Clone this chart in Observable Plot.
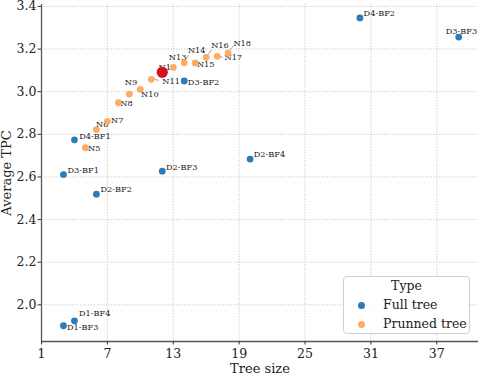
<!DOCTYPE html>
<html><head><meta charset="utf-8">
<script src="https://cdn.jsdelivr.net/npm/d3@7"></script>
<script src="https://cdn.jsdelivr.net/npm/@observablehq/plot@0.6"></script>
<style>
body{margin:0;background:#fff;}
#wrap{position:relative;width:478px;height:375px;font-family:"DejaVu Serif",serif;}
#legend{position:absolute;left:343px;top:276px;width:127px;height:58px;border:1px solid #cfcfcf;border-radius:4px;background:rgba(255,255,255,0.85);box-sizing:border-box;font-size:12.5px;color:#222;}
#legend .t{position:absolute;left:0;right:0;top:1px;text-align:center;}
#legend .row{position:absolute;left:0;right:0;height:18px;line-height:18px;}
#legend .dot{position:absolute;left:14px;top:6px;width:7px;height:7px;border-radius:50%;}
#legend .lab{position:absolute;left:39px;top:0;white-space:nowrap;}
</style></head><body><div id="wrap"></div>
<script>
// Full tree
const fullNames = ["D1-BF3","D1-BF4","D2-BF2","D3-BF1","D4-BF1","D2-BF3","D3-BF2","D2-BF4","D4-BF2","D3-BF3"];
const fullSize  = [3, 4, 6, 3, 4, 12, 14, 20, 30, 39];
const fullTPC   = [1.902, 1.925, 2.519, 2.611, 2.774, 2.627, 3.050, 2.684, 3.346, 3.256];
// Pruned tree
const prunedNames = ["N5","N6","N7","N8","N9","N10","N11","N12","N13","N14","N15","N16","N17","N18"];
const prunedSize  = [5, 6, 7, 8, 9, 10, 11, 12, 13, 14, 15, 16, 17, 18];
const prunedTPC   = [2.737, 2.822, 2.861, 2.948, 2.989, 3.011, 3.058, 3.091, 3.114, 3.136, 3.135, 3.161, 3.166, 3.181];
// Highlighted point
const highlightName = "N12";
// Axes
const xTicks = [1, 7, 13, 19, 25, 31, 37];
const yTicks = [2.0, 2.2, 2.4, 2.6, 2.8, 3.0, 3.2, 3.4];
const xDomain = [1, 40.8];
const yDomain = [1.828, 3.409];
const typeNames = ["Full tree", "Prunned tree"];
const typeColors = ["#2b7bb9", "#fdac63"];
const highlightColor = "#d3111f";

// label offsets (px): [dx, dy]
const labelOffsets = {
  "D1-BF3": [3.5, 1.5], "D1-BF4": [4.5, -7], "D2-BF2": [4, -5], "D3-BF1": [4, -4.7],
  "D4-BF1": [4.7, -3], "D2-BF3": [3.7, -4], "D3-BF2": [3.6, 1], "D2-BF4": [3.6, -4.7],
  "D4-BF2": [3.7, -4.3], "D3-BF3": [-13, -6],
  "N5": [2.7, 1], "N6": [-0.4, -5.7], "N7": [3.7, -1.3], "N8": [2, 1], "N9": [-4.6, -12],
  "N10": [0.7, 5], "N11": [11, 2], "N12": [-3.7, -4.6], "N13": [-4.4, -10.5],
  "N14": [3.7, -12.6], "N15": [1.7, 1.3], "N16": [5, -12.3], "N17": [7.3, 1.4], "N18": [5.3, -10]
};
// leader line ends (px from point)
const leaders = {"N11": [8, 1.5], "N14": [5, -7], "N16": [6, -7], "N17": [6, 1.5], "N18": [6, -7]};

const full = fullNames.map((n, i) => ({name: n, size: fullSize[i], tpc: fullTPC[i], type: typeNames[0]}));
const pruned = prunedNames.map((n, i) => ({name: n, size: prunedSize[i], tpc: prunedTPC[i], type: typeNames[1]}));
const all = full.concat(pruned);
const hi = all.filter(d => d.name === highlightName);

const font = "DejaVu Serif";

function leaderMark(index, scales) {
  const g = d3.create("svg:g").attr("stroke", "#8a8a8a").attr("stroke-width", 0.8);
  for (const [name, [lx, ly]] of Object.entries(leaders)) {
    const p = all.find(d => d.name === name);
    const x0 = scales.x(p.size), y0 = scales.y(p.tpc);
    g.append("line").attr("x1", x0).attr("y1", y0).attr("x2", x0 + lx).attr("y2", y0 + ly);
  }
  return g.node();
}

const labelMarks = all.map(d => {
  const [dx, dy] = labelOffsets[d.name];
  return Plot.text([d], {x: "size", y: "tpc", text: "name", dx, dy, textAnchor: "start",
    fontSize: 8.2, fontFamily: font, fill: "#1a1a1a"});
});

const chart = Plot.plot({
  width: 478, height: 375,
  marginLeft: 41, marginRight: 0, marginTop: 4, marginBottom: 34,
  style: {fontFamily: font, fontSize: "12.5px", color: "#222", background: "#fff", overflow: "visible"},
  x: {domain: xDomain},
  y: {domain: yDomain},
  marks: [
    Plot.gridX(xTicks, {stroke: "#b5b5b5", strokeOpacity: 1, strokeWidth: 0.8, strokeDasharray: "1,1.6"}),
    Plot.gridY(yTicks, {stroke: "#b5b5b5", strokeOpacity: 1, strokeWidth: 0.8, strokeDasharray: "1,1.6"}),
    Plot.ruleY([yDomain[0]], {stroke: "#555", strokeWidth: 1.3}),
    Plot.ruleX([xDomain[0]], {stroke: "#555", strokeWidth: 1.3}),
    Plot.axisX(xTicks, {tickSize: 3.5, tickPadding: 4, label: null, fontSize: 12.5, fontFamily: font, stroke: "#333"}),
    Plot.axisY(yTicks, {tickSize: 3.5, tickPadding: 1.5, label: null, tickFormat: d3.format(".1f"), fontSize: 12.5, fontFamily: font, stroke: "#333"}),
    Plot.text(["Tree size"], {frameAnchor: "bottom", lineAnchor: "middle", dy: 27, fontSize: 13, fontFamily: font, fill: "#222"}),
    Plot.text(["Average TPC"], {frameAnchor: "left", textAnchor: "middle", lineAnchor: "middle", dx: -35, rotate: -90, fontSize: 13, fontFamily: font, fill: "#222"}),
    leaderMark,
    ...labelMarks,
    Plot.dot(all, {x: "size", y: "tpc", r: 3.4, fill: "type", stroke: "none"}),
    Plot.dot(hi, {x: "size", y: "tpc", r: 5.6, fill: highlightColor, stroke: "none"})
  ],
  color: {domain: typeNames, range: typeColors}
});

const wrap = document.getElementById("wrap");
wrap.appendChild(chart);

const legend = document.createElement("div");
legend.id = "legend";
legend.innerHTML = `<div class="t">Type</div>` + typeNames.map((n, i) =>
  `<div class="row" style="top:${19 + i * 19}px"><span class="dot" style="background:${typeColors[i]}"></span><span class="lab">${n}</span></div>`).join("");
wrap.appendChild(legend);
</script>
</body></html>
